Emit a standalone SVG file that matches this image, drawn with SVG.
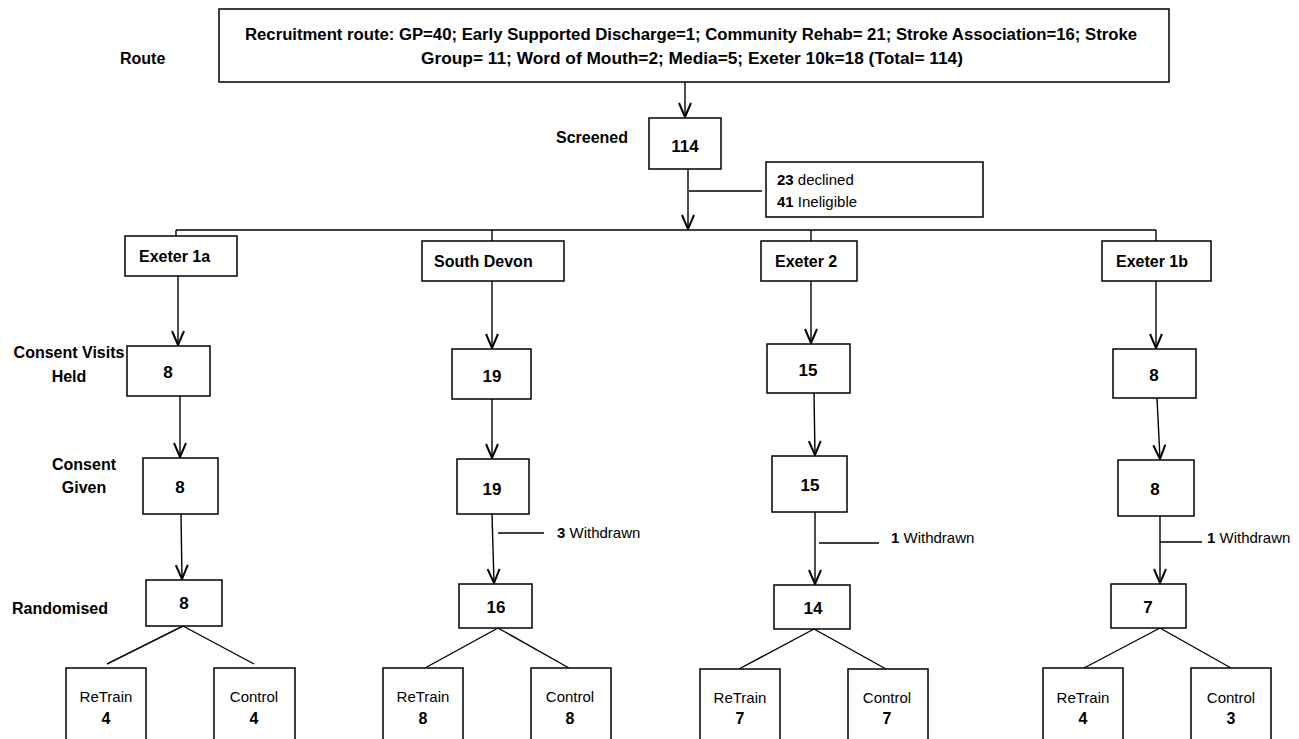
<svg xmlns="http://www.w3.org/2000/svg" width="1299" height="739" viewBox="0 0 1299 739">
<style>
.b{fill:#fff;stroke:#000;stroke-width:1.5}
.l{fill:none;stroke:#000;stroke-width:1.4}
.t{font-family:"Liberation Sans",Arial,sans-serif;font-size:16px;font-weight:bold;fill:#000}
.n{font-size:17px}
.r{font-family:"Liberation Sans",Arial,sans-serif;font-size:15px;fill:#000}
.m{text-anchor:middle}
</style>
<defs>
<marker id="v" viewBox="-16 -8 18 16" markerWidth="18" markerHeight="16" refX="0" refY="0" orient="auto" markerUnits="userSpaceOnUse">
<path d="M-14,-6 L0,0 L-14,6" fill="none" stroke="#000" stroke-width="2"/>
</marker>
</defs>
<rect width="1299" height="739" fill="#fff"/>

<g id="labels">
<text class="t" x="120" y="64">Route</text>
<text class="t" x="556" y="143">Screened</text>
<text class="t m" x="69" y="358">Consent Visits</text>
<text class="t m" x="69" y="382">Held</text>
<text class="t m" x="84" y="470">Consent</text>
<text class="t m" x="84" y="493">Given</text>
<text class="t" x="12" y="614">Randomised</text>
</g>

<g id="connectors">
<line class="l" x1="685" y1="82" x2="685" y2="117" marker-end="url(#v)"/>
<line class="l" x1="688" y1="169" x2="688" y2="229" marker-end="url(#v)"/>
<line class="l" x1="689" y1="191" x2="762" y2="191"/>
<line class="l" x1="176" y1="230" x2="1156" y2="230"/>
<line class="l" x1="176" y1="230" x2="176" y2="236"/>
<line class="l" x1="492" y1="230" x2="492" y2="241"/>
<line class="l" x1="811" y1="230" x2="811" y2="241"/>
<line class="l" x1="1156" y1="230" x2="1156" y2="241"/>
<!-- Exeter 1a -->
<line class="l" x1="178" y1="276" x2="178" y2="345" marker-end="url(#v)"/>
<line class="l" x1="180" y1="396" x2="180" y2="457" marker-end="url(#v)"/>
<line class="l" x1="181" y1="514" x2="182" y2="579" marker-end="url(#v)"/>
<line class="l" x1="183" y1="626" x2="107" y2="664"/>
<line class="l" x1="183" y1="626" x2="254" y2="664"/>
<!-- South Devon -->
<line class="l" x1="492" y1="281" x2="492" y2="348" marker-end="url(#v)"/>
<line class="l" x1="492" y1="399" x2="492" y2="458" marker-end="url(#v)"/>
<line class="l" x1="492" y1="514" x2="494" y2="583" marker-end="url(#v)"/>
<line class="l" x1="498" y1="533" x2="544" y2="533"/>
<line class="l" x1="498" y1="628" x2="425" y2="668"/>
<line class="l" x1="498" y1="628" x2="569" y2="668"/>
<!-- Exeter 2 -->
<line class="l" x1="811" y1="281" x2="811" y2="343" marker-end="url(#v)"/>
<line class="l" x1="814" y1="393" x2="815" y2="455" marker-end="url(#v)"/>
<line class="l" x1="815" y1="512" x2="815" y2="584" marker-end="url(#v)"/>
<line class="l" x1="819" y1="543" x2="879" y2="543"/>
<line class="l" x1="814" y1="629" x2="739" y2="669"/>
<line class="l" x1="814" y1="629" x2="886" y2="669"/>
<!-- Exeter 1b -->
<line class="l" x1="1156" y1="281" x2="1156" y2="348" marker-end="url(#v)"/>
<line class="l" x1="1157" y1="398" x2="1160" y2="459" marker-end="url(#v)"/>
<line class="l" x1="1160" y1="516" x2="1160" y2="583" marker-end="url(#v)"/>
<line class="l" x1="1160" y1="542" x2="1202" y2="542"/>
<line class="l" x1="1160" y1="628" x2="1084" y2="668"/>
<line class="l" x1="1160" y1="628" x2="1231" y2="668"/>
</g>

<g id="route">
<rect class="b" x="219" y="9" width="950" height="73"/>
<text class="t" x="245" y="40" textLength="892" lengthAdjust="spacingAndGlyphs">Recruitment route: GP=40; Early Supported Discharge=1; Community Rehab= 21; Stroke Association=16; Stroke</text>
<text class="t" x="421" y="64" textLength="542" lengthAdjust="spacingAndGlyphs">Group= 11; Word of Mouth=2; Media=5; Exeter 10k=18 (Total= 114)</text>
</g>

<g id="screened">
<rect class="b" x="649" y="118" width="72" height="51"/>
<text class="t n m" x="685" y="152">114</text>
</g>

<g id="excluded">
<rect class="b" x="766" y="162" width="217" height="55"/>
<text class="r" x="777" y="185"><tspan font-weight="bold">23</tspan> declined</text>
<text class="r" x="777" y="207"><tspan font-weight="bold">41</tspan> Ineligible</text>
</g>

<g id="exeter1a">
<rect class="b" x="125" y="236" width="112" height="40"/>
<text class="t" x="139" y="262">Exeter 1a</text>
</g>
<g id="southdevon">
<rect class="b" x="422" y="241" width="142" height="40"/>
<text class="t" x="434" y="267">South Devon</text>
</g>
<g id="exeter2">
<rect class="b" x="761" y="241" width="96" height="40"/>
<text class="t" x="775" y="267">Exeter 2</text>
</g>
<g id="exeter1b">
<rect class="b" x="1102" y="241" width="109" height="40"/>
<text class="t" x="1116" y="267">Exeter 1b</text>
</g>

<g id="visits-1a"><rect class="b" x="127" y="346" width="83" height="50"/><text class="t n m" x="168" y="378">8</text></g>
<g id="visits-sd"><rect class="b" x="452" y="349" width="79" height="50"/><text class="t n m" x="492" y="382">19</text></g>
<g id="visits-e2"><rect class="b" x="767" y="344" width="83" height="49"/><text class="t n m" x="808" y="376">15</text></g>
<g id="visits-1b"><rect class="b" x="1113" y="349" width="83" height="49"/><text class="t n m" x="1154" y="381">8</text></g>

<g id="given-1a"><rect class="b" x="143" y="458" width="75" height="56"/><text class="t n m" x="180" y="493">8</text></g>
<g id="given-sd"><rect class="b" x="457" y="459" width="72" height="55"/><text class="t n m" x="492" y="495">19</text></g>
<g id="given-e2"><rect class="b" x="772" y="456" width="75" height="56"/><text class="t n m" x="810" y="491">15</text></g>
<g id="given-1b"><rect class="b" x="1118" y="460" width="76" height="56"/><text class="t n m" x="1155" y="495">8</text></g>

<g id="withdrawn-sd"><text class="r" x="557" y="538"><tspan font-weight="bold">3</tspan> Withdrawn</text></g>
<g id="withdrawn-e2"><text class="r" x="891" y="543"><tspan font-weight="bold">1</tspan> Withdrawn</text></g>
<g id="withdrawn-1b"><text class="r" x="1207" y="543"><tspan font-weight="bold">1</tspan> Withdrawn</text></g>

<g id="rand-1a"><rect class="b" x="146" y="580" width="76" height="46"/><text class="t n m" x="184" y="609">8</text></g>
<g id="rand-sd"><rect class="b" x="459" y="584" width="73" height="44"/><text class="t n m" x="496" y="613">16</text></g>
<g id="rand-e2"><rect class="b" x="774" y="585" width="76" height="44"/><text class="t n m" x="813" y="614">14</text></g>
<g id="rand-1b"><rect class="b" x="1111" y="584" width="75" height="44"/><text class="t n m" x="1148" y="613">7</text></g>

<g id="retrain-1a"><rect class="b" x="66" y="668" width="80" height="80"/><text class="r m" x="106" y="702">ReTrain</text><text class="t m" x="106" y="724">4</text></g>
<g id="control-1a"><rect class="b" x="214" y="668" width="81" height="80"/><text class="r m" x="254" y="702">Control</text><text class="t m" x="254" y="724">4</text></g>
<g id="retrain-sd"><rect class="b" x="383" y="668" width="80" height="80"/><text class="r m" x="423" y="702">ReTrain</text><text class="t m" x="423" y="724">8</text></g>
<g id="control-sd"><rect class="b" x="531" y="668" width="80" height="80"/><text class="r m" x="570" y="702">Control</text><text class="t m" x="570" y="724">8</text></g>
<g id="retrain-e2"><rect class="b" x="700" y="669" width="80" height="80"/><text class="r m" x="740" y="703">ReTrain</text><text class="t m" x="740" y="724">7</text></g>
<g id="control-e2"><rect class="b" x="848" y="669" width="80" height="80"/><text class="r m" x="887" y="703">Control</text><text class="t m" x="887" y="724">7</text></g>
<g id="retrain-1b"><rect class="b" x="1043" y="668" width="80" height="80"/><text class="r m" x="1083" y="703">ReTrain</text><text class="t m" x="1083" y="724">4</text></g>
<g id="control-1b"><rect class="b" x="1191" y="668" width="80" height="80"/><text class="r m" x="1231" y="703">Control</text><text class="t m" x="1231" y="724">3</text></g>
</svg>
